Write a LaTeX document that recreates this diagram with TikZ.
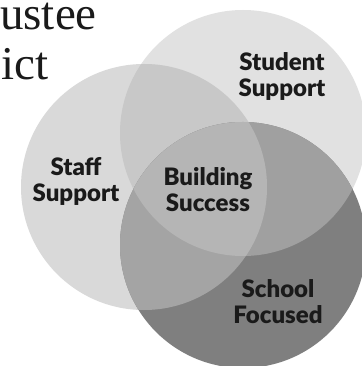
\documentclass[tikz,border=0pt]{standalone}
\usepackage{fontspec}
\newfontfamily\latob{Lato Black}
\newfontfamily\headserif{Liberation Serif}
\definecolor{cTR}{HTML}{E1E1E1}
\definecolor{cL}{HTML}{D9D9D9}
\definecolor{cTRL}{HTML}{C8C8C8}
\definecolor{cBR}{HTML}{7F7F7F}
\definecolor{cBRTR}{HTML}{A0A0A0}
\definecolor{cBRL}{HTML}{A4A4A4}
\definecolor{cMid}{HTML}{B5B5B5}
\definecolor{ink}{HTML}{1A1A1A}
\begin{document}
\begin{tikzpicture}[x=1pt,y=-1pt,
  lab/.style={font=\latob\fontsize{24}{26}\selectfont, align=center, text=ink, inner sep=0pt},
  head/.style={font=\headserif\fontsize{47}{52}\selectfont, text=ink, inner sep=0pt, anchor=base west}]
\useasboundingbox (0,0) rectangle (361,366);
\def\TRc{(243,133) circle[radius=123pt]}
\def\Lc{(144,187) circle[radius=123pt]}
\def\BRc{(243,245) circle[radius=123pt]}
\fill[white] (0,0) rectangle (361,366);
\fill[cTR] \TRc;
\fill[cL] \Lc;
\begin{scope}\clip \TRc; \fill[cTRL] \Lc; \end{scope}
\fill[cBR] \BRc;
\begin{scope}\clip \BRc; \fill[cBRTR] \TRc; \end{scope}
\begin{scope}\clip \BRc; \fill[cBRL] \Lc; \end{scope}
\begin{scope}\clip \BRc; \clip \TRc; \fill[cMid] \Lc; \end{scope}
\node[head] (t1) at (0,30) {ustee};
\node[head] (t2) at (1,80) {ict};
\node[lab] (student) at (282,76) {Student\\Support};
\node[lab] (staff) at (76,181) {Staff\\Support};
\node[lab] (build) at (208,190) {Building\\Success};
\node[lab] (school) at (278,302) {School\\Focused};
\end{tikzpicture}
\end{document}
